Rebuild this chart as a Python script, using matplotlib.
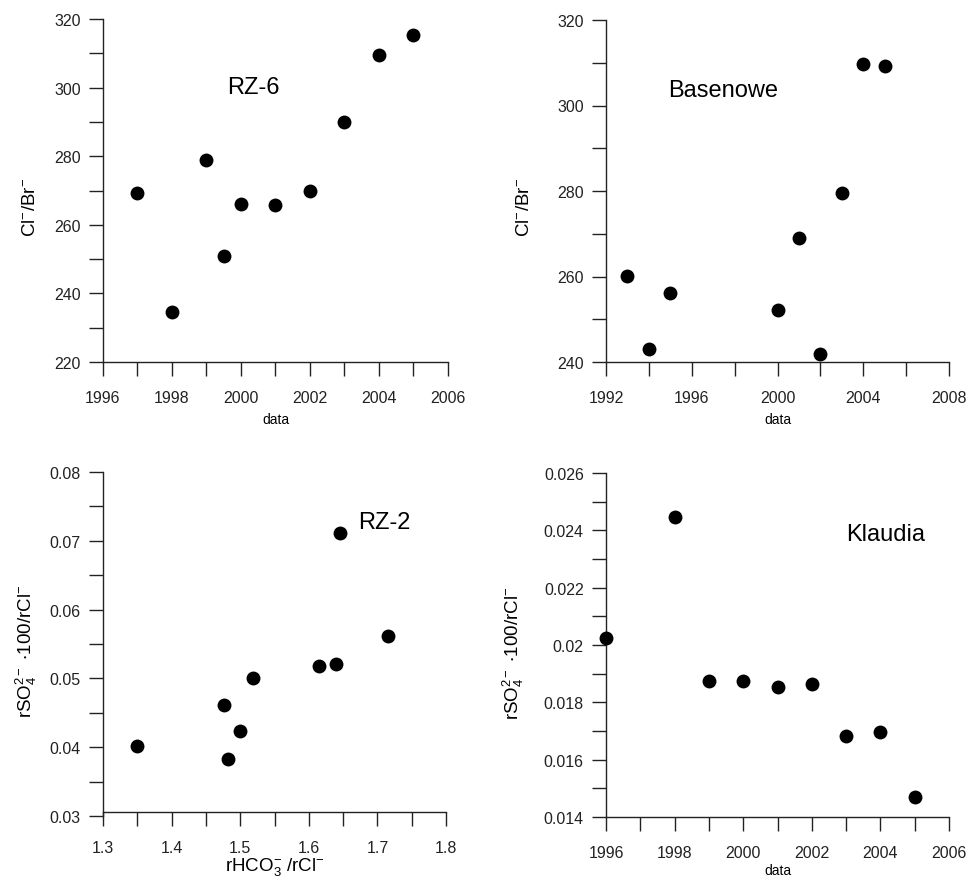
import numpy as np
import matplotlib
matplotlib.use("Agg")
import matplotlib.pyplot as plt
from matplotlib.ticker import MultipleLocator

plt.rcParams["font.family"] = ["Liberation Sans", "DejaVu Sans"]
plt.rcParams["mathtext.fontset"] = "custom"
plt.rcParams["mathtext.rm"] = "Liberation Sans"
plt.rcParams["mathtext.it"] = "Liberation Sans:italic"
plt.rcParams["mathtext.default"] = "regular"

# ---- data ----
rz6_year = [1997, 1998, 1999, 1999.5, 2000, 2001, 2002, 2003, 2004, 2005]
rz6_clbr = [269.2, 234.5, 278.9, 250.9, 266.0, 265.7, 269.9, 290.0, 309.4, 315.3]

bas_year = [1993, 1994, 1995, 2000, 2001, 2002, 2003, 2004, 2005]
bas_clbr = [260.1, 243.1, 256.2, 252.1, 269.1, 241.8, 279.6, 309.6, 309.3]

rz2_hco3 = [1.350, 1.477, 1.482, 1.499, 1.518, 1.615, 1.640, 1.645, 1.716]
rz2_so4 = [0.0402, 0.0461, 0.0383, 0.0423, 0.0501, 0.0518, 0.0521, 0.0711, 0.0562]

kla_year = [1996, 1998, 1999, 2000, 2001, 2002, 2003, 2004, 2005]
kla_so4 = [0.02023, 0.02446, 0.01873, 0.01873, 0.01852, 0.01864, 0.01683, 0.01697, 0.01469]

lbl_clbr = r"Cl$^{-}$/Br$^{-}$"
lbl_so4 = r"rSO$_4^{2-}$ $\cdot$100/rCl$^{-}$"
lbl_hco3 = r"rHCO$_3^{-}$ /rCl$^{-}$"

W, H = 967, 879
fig = plt.figure(figsize=(W / 100, H / 100), dpi=100)


def make_ax(left, top, right, bottom):
    # pixel box -> figure fraction
    return fig.add_axes([left / W, 1 - bottom / H, (right - left) / W, (bottom - top) / H])


def style(ax, xlim, ylim, xmaj, xmin, ymaj, ymin):
    ax.set_xlim(*xlim)
    ax.set_ylim(*ylim)
    ax.xaxis.set_major_locator(MultipleLocator(xmaj))
    ax.xaxis.set_minor_locator(MultipleLocator(xmin))
    ax.yaxis.set_major_locator(MultipleLocator(ymaj))
    ax.yaxis.set_minor_locator(MultipleLocator(ymin))
    for s in ("top", "right"):
        ax.spines[s].set_visible(False)
    for s in ("left", "bottom"):
        ax.spines[s].set_color("#222222")
        ax.spines[s].set_linewidth(1.0)
    ax.tick_params(which="both", direction="out", length=10, width=1.0, color="#222222")
    ax.tick_params(axis="y", which="major", pad=6, labelsize=11.5, labelcolor="#222222")
    ax.tick_params(axis="x", which="major", pad=10, labelsize=11.5, labelcolor="#222222")


def dots(ax, x, y):
    ax.scatter(x, y, s=100, color="black", zorder=5, clip_on=False, linewidths=0)


# top-left: RZ-6
ax1 = make_ax(103, 20, 448, 363)
style(ax1, (1996, 2006), (220, 320), 2, 1, 20, 10)
dots(ax1, rz6_year, rz6_clbr)
ax1.text(2000.35, 300.3, "RZ-6", fontsize=17, ha="center", va="center")
ax1.set_ylabel(lbl_clbr, fontsize=13.5, va="center")
ax1.yaxis.set_label_coords(-0.209, 0.455)
ax1.set_xlabel("data", fontsize=10)
ax1.xaxis.set_label_coords(0.5, -0.145)

# top-right: Basenowe
ax2 = make_ax(606, 21, 949, 363)
style(ax2, (1992, 2008), (240, 320), 4, 2, 20, 10)
dots(ax2, bas_year, bas_clbr)
ax2.text(1997.47, 303.7, "Basenowe", fontsize=17, ha="center", va="center")
ax2.set_ylabel(lbl_clbr, fontsize=13.5, va="center")
ax2.yaxis.set_label_coords(-0.239, 0.455)
ax2.set_xlabel("data", fontsize=10)
ax2.xaxis.set_label_coords(0.5, -0.146)

# bottom-left: RZ-2
ax3 = make_ax(103, 473, 446, 817)
style(ax3, (1.3, 1.8), (0.03, 0.08), 0.1, 0.05, 0.01, 0.005)
ax3.spines["bottom"].set_position(("data", 0.0306))
dots(ax3, rz2_hco3, rz2_so4)
ax3.text(1.710, 0.0727, "RZ-2", fontsize=17, ha="center", va="center")
ax3.set_ylabel(lbl_so4, fontsize=13.5, va="center")
ax3.yaxis.set_label_coords(-0.223, 0.481)
ax3.set_xlabel(lbl_hco3, fontsize=13.5)
ax3.xaxis.set_label_coords(0.5, -0.112)

# bottom-right: Klaudia
ax4 = make_ax(606, 474, 949, 818)
style(ax4, (1996, 2006), (0.014, 0.026), 2, 1, 0.002, 0.001)
ax4.set_yticks([0.014, 0.016, 0.018, 0.02, 0.022, 0.024, 0.026])
ax4.set_yticklabels(["0.014", "0.016", "0.018", "0.02", "0.022", "0.024", "0.026"])
dots(ax4, kla_year, kla_so4)
ax4.text(2004.15, 0.02388, "Klaudia", fontsize=17, ha="center", va="center")
ax4.set_ylabel(lbl_so4, fontsize=13.5, va="center",
               bbox=dict(fc="white", ec="none", pad=0))
ax4.yaxis.set_label_coords(-0.271, 0.48)
ax4.set_xlabel("data", fontsize=10)
ax4.xaxis.set_label_coords(0.5, -0.133)

fig.savefig("out.png", dpi=100)
